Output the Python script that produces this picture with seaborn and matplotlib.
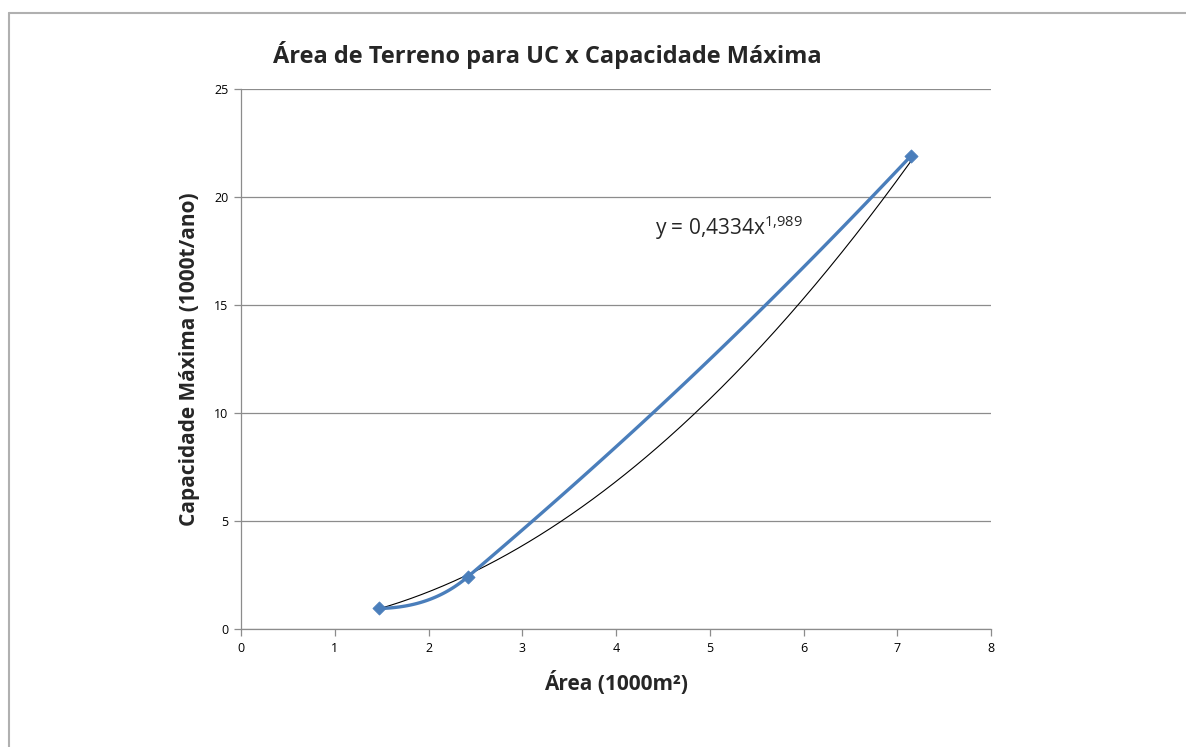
import numpy as np
import pandas as pd
import seaborn as sns
import matplotlib.pyplot as plt
from matplotlib.lines import Line2D

# data
area = [1.47, 2.42, 7.15]
capacidade = [0.95, 2.42, 21.92]
coef_a = 0.4334
coef_b = 1.989
x_ticks = [0, 1, 2, 3, 4, 5, 6, 7, 8]
y_ticks = [0, 5, 10, 15, 20, 25]

blue = '#4A7EBB'

# pixels per data unit, used so the smoothing looks right on screen
SX = 750 / 8
SY = 540 / 25


def unit(v):
    return v / np.linalg.norm(v)


def smooth_curve(xs, ys, n=60, k=0.36):
    # smoothed line like Excel: bezier segments, tangents from neighbours,
    # end tangents mirrored about the end chord
    p = np.column_stack([np.asarray(xs, float) * SX, np.asarray(ys, float) * SY])
    m = len(p)
    tang = [None] * m
    for i in range(1, m - 1):
        tang[i] = unit(p[i + 1] - p[i - 1])
    tang[0] = unit(2 * unit(p[1] - p[0]) - tang[1])
    tang[-1] = unit(2 * unit(p[-1] - p[-2]) - tang[-2])
    px, py = [], []
    t = np.linspace(0, 1, n)[:, None]
    for i in range(m - 1):
        seg = np.linalg.norm(p[i + 1] - p[i])
        c1 = p[i] + tang[i] * seg * k
        c2 = p[i + 1] - tang[i + 1] * seg * k
        b = (1 - t) ** 3 * p[i] + 3 * (1 - t) ** 2 * t * c1 + 3 * (1 - t) * t ** 2 * c2 + t ** 3 * p[i + 1]
        px.extend(b[:, 0] / SX)
        py.extend(b[:, 1] / SY)
    return np.array(px), np.array(py)


sns.set_style('white')
plt.rcParams['font.family'] = ['Open Sans', 'DejaVu Sans']
plt.rcParams['mathtext.default'] = 'regular'

fig = plt.figure(figsize=(11.86, 7.47), dpi=100)
ax = fig.add_axes([241 / 1186, 118 / 747, 750 / 1186, 540 / 747])

df = pd.DataFrame({'x': area, 'y': capacidade})

# power trendline
tx = np.linspace(min(area), max(area), 200)
trend = pd.DataFrame({'x': tx, 'y': coef_a * tx ** coef_b})
sns.lineplot(data=trend, x='x', y='y', sort=False, color='black', linewidth=0.8, ax=ax, zorder=3)

sx, sy = smooth_curve(area, capacidade)
smooth = pd.DataFrame({'x': sx, 'y': sy})
sns.lineplot(data=smooth, x='x', y='y', sort=False, color=blue, linewidth=2.4, ax=ax, zorder=4)
sns.scatterplot(data=df, x='x', y='y', marker='D', s=45, color=blue, edgecolor=blue, ax=ax, zorder=5)

ax.set_xlim(0, 8)
ax.set_ylim(0, 25)
ax.set_xticks(x_ticks)
ax.set_yticks(y_ticks)
ax.yaxis.grid(True, color='#8c8c8c', linewidth=0.9)
ax.set_axisbelow(True)
for side in ['top', 'right']:
    ax.spines[side].set_visible(False)
for side in ['left', 'bottom']:
    ax.spines[side].set_color('#8c8c8c')
    ax.spines[side].set_linewidth(0.9)
ax.tick_params(axis='both', which='major', direction='out', length=5, width=0.9,
               color='#8c8c8c', labelsize=9, labelcolor='black', left=True, bottom=True, pad=4)

ax.set_xlabel('Área (1000m²)', fontsize=15, fontweight='bold', labelpad=12)
ax.set_ylabel('Capacidade Máxima (1000t/ano)', fontsize=15, fontweight='bold', labelpad=10)

ax.text(4.42, 18.25, 'y = 0,4334x$^{1{,}989}$', fontsize=15, ha='left', va='baseline')

fig.text(273 / 1186, 1 - 55 / 747, 'Área de Terreno para UC x Capacidade Máxima',
         fontsize=17, fontweight='bold', ha='left', va='center')

# chart border as in the source screenshot
fig.add_artist(Line2D([9 / 1186, 1], [1 - 13 / 747, 1 - 13 / 747], color='#b0b0b0', linewidth=1.5,
                      transform=fig.transFigure))
fig.add_artist(Line2D([9 / 1186, 9 / 1186], [0, 1 - 13 / 747], color='#b0b0b0', linewidth=1.5,
                      transform=fig.transFigure))

plt.savefig('out.png', dpi=100)
plt.close()
